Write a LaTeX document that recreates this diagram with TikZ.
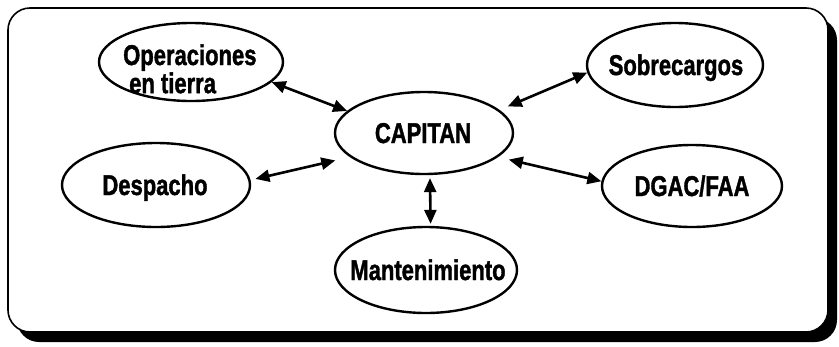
\documentclass[tikz,border=0pt]{standalone}
\usepackage{fontspec}
\setmainfont{Liberation Sans}
\newfontfamily\heavyfont{Liberation Sans Bold}[FakeBold=1.6]
\usepackage{graphicx}
\usetikzlibrary{arrows.meta,shapes.geometric}

% tall, heavy lettering used inside the bubbles
\newcommand{\tallbold}[1]{\scalebox{1}[1.3]{#1}}

\begin{document}
\begin{tikzpicture}[x=1pt,y=-1pt,
  bubble/.style={ellipse, draw, line width=2.4pt, inner sep=0pt, fill=white},
  lbl/.style={font=\heavyfont\fontsize{22}{19}\selectfont, inner sep=0pt},
  link/.style={line width=2.6pt,
    {Triangle[length=14pt,width=12pt]}-{Triangle[length=14pt,width=12pt]}},
]
\useasboundingbox (0,0) rectangle (839,346);

% panel with drop shadow
\fill[black, rounded corners=22pt] (17,18) rectangle (837,342);
\filldraw[fill=white, draw=black, line width=1.6pt, rounded corners=22pt]
  (8,8) rectangle (828,332);

% bubbles
\node[bubble, minimum width=184pt, minimum height=78pt] (op)   at (191,62)  {};
\node[bubble, minimum width=178pt, minimum height=82pt] (cap)  at (424,133) {};
\node[bubble, minimum width=176pt, minimum height=84pt] (sob)  at (675,65)  {};
\node[bubble, minimum width=188pt, minimum height=84pt] (des)  at (156,185) {};
\node[bubble, minimum width=180pt, minimum height=82pt] (dgac) at (692,186) {};
\node[bubble, minimum width=182pt, minimum height=86pt] (man)  at (426,270) {};

% labels
\node[lbl, anchor=base west] (t-op) at (123,65)
  {\tallbold{\begin{tabular}[t]{@{}l@{}}Operaciones\\\hspace*{6pt}en tierra\end{tabular}}};
\node[lbl, anchor=base] (t-cap)  at (423,143) {\tallbold{CAPITAN}};
\node[lbl, anchor=base] (t-sob)  at (676,75)  {\tallbold{Sobrecargos}};
\node[lbl, anchor=base] (t-des)  at (155,195) {\tallbold{Despacho}};
\node[lbl, anchor=base] (t-dgac) at (692,196) {\tallbold{DGAC/FAA}};
\node[lbl, anchor=base] (t-man)  at (428,280) {\tallbold{Mantenimiento}};

% two-way links to the captain
\draw[link] (op.-14) -- (cap.164);
\draw[link, shorten <=5pt, shorten >=15pt] (des.3) -- (cap.198);
\draw[link, shorten >=9pt] (sob.185) -- (cap.17);
\draw[link, shorten >=11pt] (dgac.177) -- (cap.-18);
\draw[link, shorten <=3pt, shorten >=2pt] (cap.-82) -- (man.84);
\end{tikzpicture}
\end{document}
